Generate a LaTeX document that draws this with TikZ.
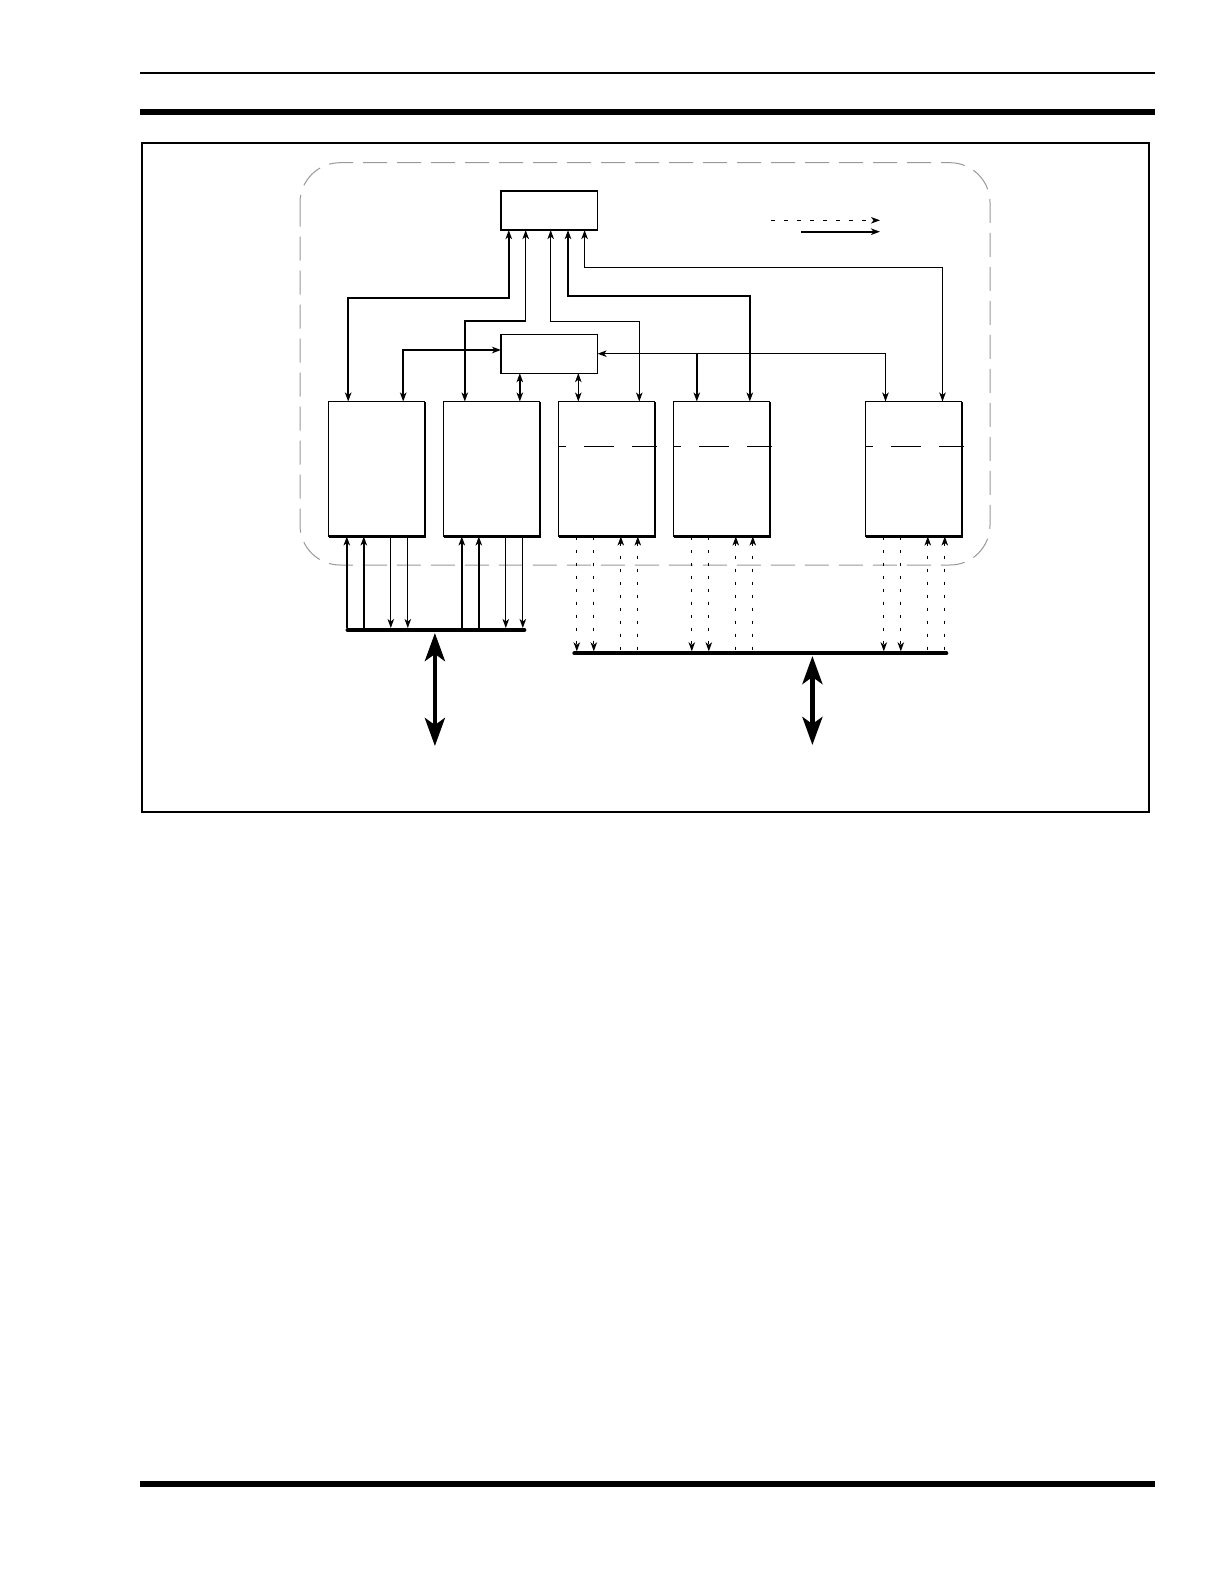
\documentclass[tikz,border=0pt]{standalone}
\usetikzlibrary{arrows.meta,positioning}
\begin{document}
\begin{tikzpicture}[x=1pt, y=-1pt, >={Stealth[length=9pt,width=6.5pt,inset=2.5pt]},
  unit/.style={draw, line width=1.3pt, minimum width=96pt, minimum height=135pt, inner sep=0pt, outer sep=0pt},
  ctrl/.style={draw, line width=1.3pt, minimum width=96.6pt, minimum height=39pt, inner sep=0pt, outer sep=0pt},
  wire/.style={line width=1.2pt},
  bus/.style={line width=4pt, line cap=round},
  dots/.style={line width=1.1pt, dash pattern=on 3.5pt off 9.5pt},
  split/.style={line width=1.1pt, dash pattern=on 30pt off 18pt, dash phase=22.5pt},
  big/.style={line width=4.5pt, {Stealth[length=28pt,width=20pt,inset=7pt]}-{Stealth[length=28pt,width=20pt,inset=7pt]}}]
  \fill[white] (0,0) rectangle (1225,1585);
  \path[use as bounding box] (0,0) rectangle (1225,1585);
  % page rules and frame
  \draw[line width=2pt] (139.5,72.8) -- (1155,72.8);
  \fill (139.5,109) rectangle (1155,114.5);
  \draw[line width=2pt] (141.5,142.5) rectangle (1149,811.5);
  \fill (139.5,1481) rectangle (1155,1486.5);
  \draw[black!40, line width=1pt, dash pattern=on 24pt off 10pt, rounded corners=40pt] (300,162.7) rectangle (990,565);
  % blocks
  \node[ctrl] (top) at (549.3,210.6) {};
  \node[ctrl] (mid) at (549.3,353.7) {};
  \node[unit] (b1) at (376.8,469) {};
  \node[unit, right=19pt of b1] (b2) {};
  \node[unit, right=19pt of b2] (b3) {};
  \node[unit, right=19pt of b3] (b4) {};
  \node[unit, right=96pt of b4] (b5) {};
  \draw[line width=2.4pt] (top.south west) -- (top.south east);
  \foreach \b in {b1,b2,b3,b4,b5}
    \draw[line width=2.4pt] (\b.south west) -- (\b.south east) -- (\b.north east);
  \foreach \b in {b3,b4,b5}
    \draw[split] ([yshift=-45.2pt]\b.north west) -- ([xshift=2.5pt,yshift=-45.2pt]\b.north east);
  % ports on top of the blocks
  \coordinate (b1t1) at ([xshift=19.4pt]b1.north west);
  \coordinate (b1t2) at ([xshift=74.4pt]b1.north west);
  \coordinate (b2t1) at ([xshift=21pt]b2.north west);
  \coordinate (b2t2) at ([xshift=76pt]b2.north west);
  \coordinate (b3t1) at ([xshift=19.5pt]b3.north west);
  \coordinate (b3t2) at ([xshift=80.5pt]b3.north west);
  \coordinate (b4t1) at ([xshift=23pt]b4.north west);
  \coordinate (b4t2) at ([xshift=76pt]b4.north west);
  \coordinate (b5t1) at ([xshift=19.7pt]b5.north west);
  \coordinate (b5t2) at ([xshift=76.7pt]b5.north west);
  % links to the top block
  \draw[wire, line width=1.8pt, <->] ([xshift=7.75pt]top.south west) -- ++(0,67.7) -| (b1t1);
  \draw[wire, line width=1.4pt, <->] ([xshift=24.7pt]top.south west) -- ++(0,90.7) -| (b2t1);
  \draw[wire, line width=1pt, <->] ([xshift=49.7pt]top.south west) -- ++(0,91) -| (b3t2);
  \draw[wire, line width=1.8pt, <->] ([xshift=67pt]top.south west) -- ++(0,65.7) -| (b4t2);
  \draw[wire, line width=1.4pt, <->] ([xshift=83.6pt]top.south west) -- ++(0,37.3) -| (b5t2);
  % links to the middle block
  \draw[wire, line width=1.6pt, <->] (b1t2) |- ([yshift=3.7pt]mid.west);
  \draw[wire, <->] (b5t1) |- (mid.east);
  \draw[wire, line width=1.6pt, ->] (b4t1 |- mid.east) -- (b4t1);
  \draw[wire, line width=1.6pt, <->] (b2t2 |- mid.south) -- (b2t2);
  \draw[wire, line width=1pt, <->] (b3t1 |- mid.south) -- (b3t1);
  % buses
  \coordinate (busLw) at (347.5,630);
  \coordinate (busLe) at (524.4,630);
  \coordinate (busRw) at (574.3,653.3);
  \coordinate (busRe) at (946.3,653.3);
  \draw[bus] (busLw) -- (busLe);
  \draw[bus] (busRw) -- (busRe);
  \foreach \b in {b1,b2}{
    \foreach \dx in {18,35}
      \draw[wire, line width=1.4pt, <-] ([xshift=\dx pt]\b.south west) -- ++(0,91.5);
    \foreach \dx in {62,79}
      \draw[wire, line width=1.2pt, ->] ([xshift=\dx pt]\b.south west) -- ++(0,91.5);
  }
  \foreach \b in {b3,b4,b5}{
    \foreach \dx in {18,35}
      \draw[dots, ->] ([xshift=\dx pt]\b.south west) -- ++(0,114.8);
    \foreach \dx in {62,79}
      \draw[dots, <-] ([xshift=\dx pt]\b.south west) -- ++(0,114.8);
  }
  \coordinate (ioL) at (434.9,633);
  \coordinate (ioR) at (812.4,656);
  \draw[big] (ioL) -- ++(0,113);
  \draw[big] (ioR) -- ++(0,89);
  % key
  \coordinate (keyA) at (771,220.3);
  \coordinate (keyB) at (801,231.7);
  \draw[dots, ->] (keyA) -- ++(109,0);
  \draw[wire, line width=1.8pt, ->] (keyB) -- ++(79,0);
\end{tikzpicture}
\end{document}
